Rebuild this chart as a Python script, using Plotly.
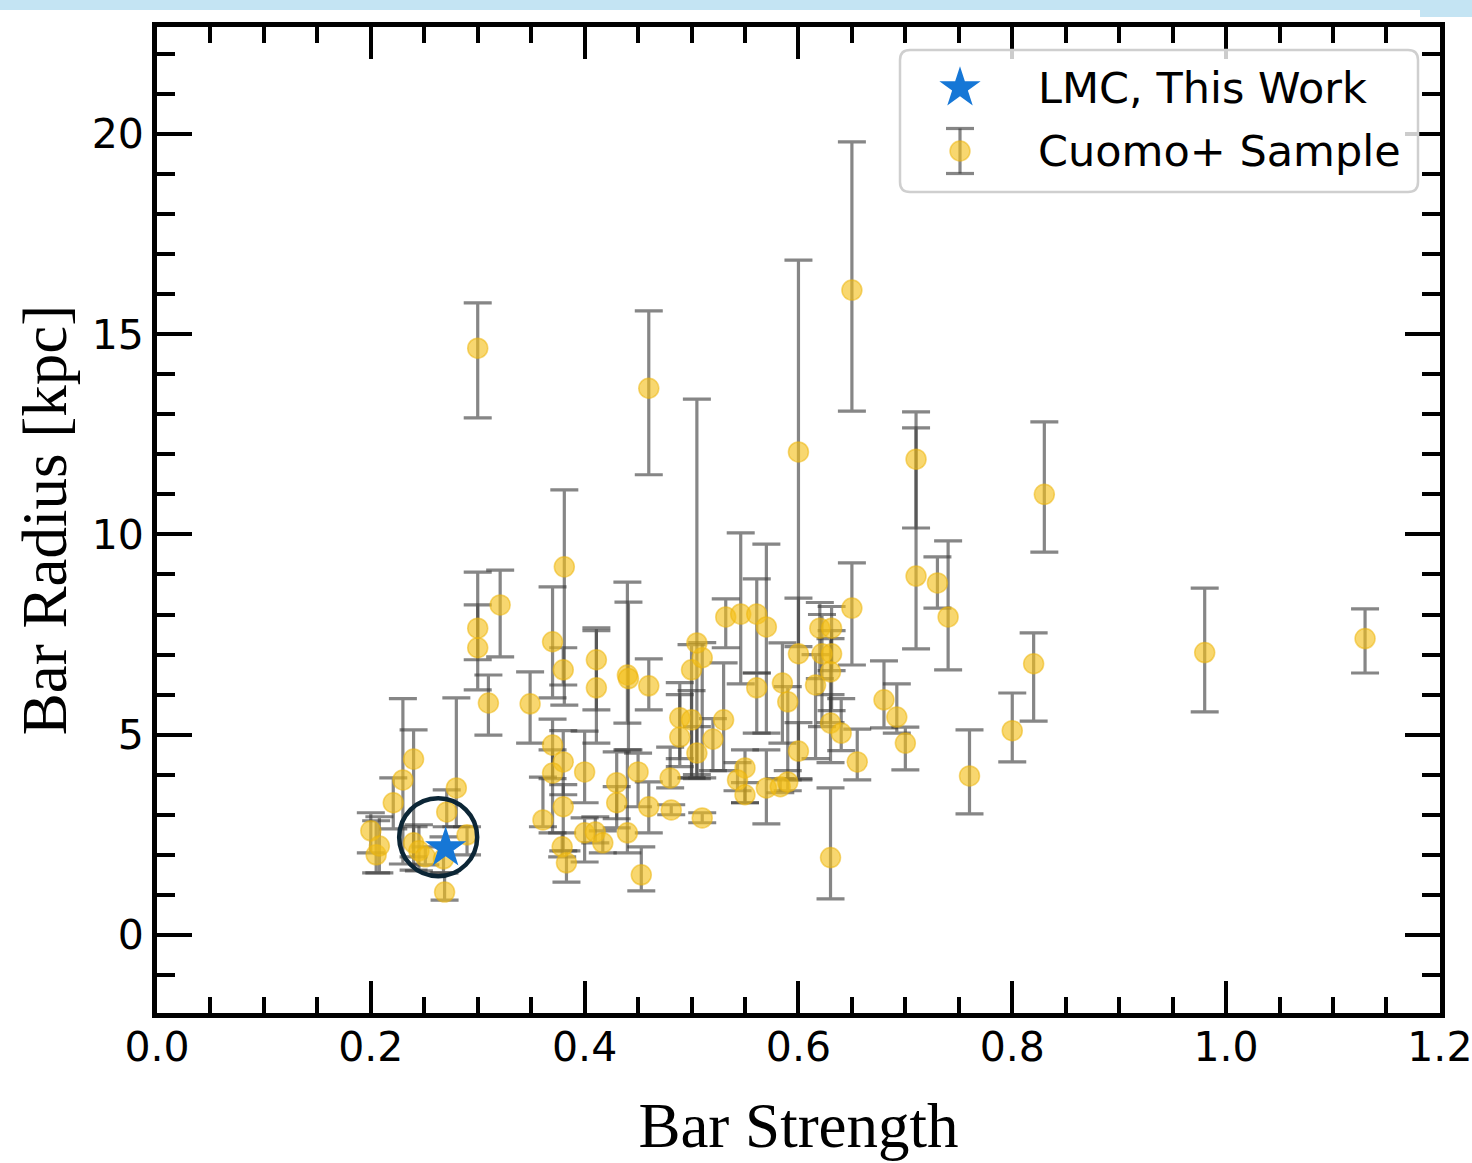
import math
import plotly.graph_objects as go

# ---------------------------------------------------------------------------
# Cuomo+ sample: bar strength vs. bar radius, with lower/upper radius bounds
# ---------------------------------------------------------------------------
bar_strength = [
    0.200, 0.205, 0.208, 0.221, 0.230, 0.240, 0.240, 0.245, 0.251, 0.271,
    0.280, 0.269, 0.290, 0.268, 0.300, 0.300, 0.321, 0.310, 0.300, 0.349,
    0.370, 0.381, 0.380, 0.411, 0.411, 0.440, 0.441, 0.460, 0.370, 0.380,
    0.370, 0.400, 0.380, 0.361, 0.379, 0.383, 0.400, 0.410, 0.417, 0.430,
    0.430, 0.440, 0.450, 0.460, 0.453, 0.480, 0.481, 0.510, 0.460, 0.489,
    0.500, 0.489, 0.505, 0.520, 0.530, 0.500, 0.510, 0.505, 0.532, 0.546,
    0.561, 0.570, 0.561, 0.585, 0.590, 0.600, 0.600, 0.600, 0.550, 0.543,
    0.550, 0.570, 0.583, 0.590, 0.620, 0.631, 0.622, 0.631, 0.630, 0.616,
    0.630, 0.640, 0.655, 0.650, 0.650, 0.630, 0.680, 0.692, 0.700, 0.710,
    0.710, 0.730, 0.740, 0.760, 0.800, 0.820, 0.830, 0.980, 1.130,
]
bar_radius = [
    2.60, 2.00, 2.22, 3.30, 3.87, 4.39, 2.30, 2.10, 1.95, 3.07,
    3.67, 1.07, 2.50, 1.90, 7.66, 7.17, 8.24, 5.79, 14.65, 5.77,
    7.32, 9.19, 6.62, 6.87, 6.17, 6.49, 6.40, 6.22, 4.74, 4.32,
    4.04, 4.07, 3.20, 2.87, 2.20, 1.80, 2.55, 2.57, 2.30, 3.80,
    3.30, 2.55, 4.07, 3.20, 1.50, 3.92, 3.12, 2.92, 13.65, 5.42,
    5.37, 4.94, 4.54, 4.89, 5.37, 6.62, 6.92, 7.29, 7.94, 8.01,
    8.01, 7.69, 6.17, 6.29, 5.82, 7.02, 12.06, 4.59, 4.17, 3.87,
    3.50, 3.67, 3.70, 3.82, 7.66, 7.66, 7.02, 7.02, 6.57, 6.24,
    5.29, 5.04, 4.32, 8.16, 16.10, 1.93, 5.87, 5.44, 4.79, 11.88,
    8.96, 8.79, 7.94, 3.97, 5.10, 6.77, 11.00, 7.05, 7.40,
]
radius_lower = [
    2.05, 1.55, 1.55, 2.65, 1.77, 1.62, 1.95, 1.60, 1.75, 2.70,
    2.70, 0.87, 2.00, 1.55, 6.12, 6.87, 6.94, 4.99, 12.91, 4.79,
    5.92, 5.74, 6.24, 4.79, 5.62, 5.29, 4.62, 5.62, 3.90, 3.50,
    2.55, 3.30, 2.10, 2.70, 1.95, 1.32, 1.82, 2.30, 2.05, 2.67,
    2.90, 2.05, 3.20, 2.55, 1.10, 3.67, 3.00, 2.80, 11.49, 4.20,
    3.92, 4.40, 3.90, 4.10, 4.10, 3.92, 3.92, 4.00, 7.17, 6.27,
    6.54, 5.04, 5.04, 4.79, 3.87, 3.87, 7.20, 3.90, 3.30, 3.60,
    3.30, 2.77, 3.55, 3.60, 6.40, 6.60, 5.20, 5.60, 5.30, 4.40,
    4.30, 4.60, 3.87, 6.74, 13.08, 0.90, 5.17, 5.04, 4.12, 10.16,
    7.14, 8.16, 6.62, 3.02, 4.32, 5.34, 9.56, 5.57, 6.54,
]
radius_upper = [
    3.05, 2.85, 2.95, 3.92, 5.90, 5.12, 2.70, 2.75, 2.20, 3.62,
    5.92, 1.55, 2.70, 2.45, 9.06, 8.24, 9.11, 6.49, 15.78, 6.57,
    8.69, 11.11, 7.17, 7.67, 7.60, 8.81, 8.31, 6.89, 5.39, 5.10,
    4.62, 5.09, 3.75, 3.94, 2.55, 2.10, 2.92, 2.95, 2.60, 4.57,
    3.70, 4.62, 4.54, 3.82, 2.20, 4.69, 3.25, 3.05, 15.58, 6.30,
    6.10, 6.00, 5.20, 5.40, 6.79, 7.25, 7.30, 13.38, 8.39, 10.04,
    8.89, 9.76, 6.54, 7.29, 6.20, 8.41, 16.85, 5.30, 4.62, 4.30,
    3.80, 4.62, 3.90, 4.10, 8.30, 8.20, 8.00, 7.60, 7.40, 7.00,
    6.00, 5.90, 5.14, 9.29, 19.80, 3.67, 6.84, 6.27, 5.19, 13.06,
    12.66, 9.44, 9.84, 5.12, 6.04, 7.54, 12.81, 8.66, 8.14,
]

# LMC measurement from this work
lmc_strength = [0.27]
lmc_radius = [2.17]

# Axis ticks
x_ticks = [0.0, 0.2, 0.4, 0.6, 0.8, 1.0, 1.2]
y_ticks = [0, 5, 10, 15, 20]

series_names = ["LMC, This Work", "Cuomo+ Sample"]

err_minus = [r - lo for r, lo in zip(bar_radius, radius_lower)]
err_plus = [hi - r for r, hi in zip(bar_radius, radius_upper)]

# ---------------------------------------------------------------------------
# Styling / layout constants
# ---------------------------------------------------------------------------
W, H = 1472, 1163
M_L, M_R, M_T, M_B = 157, 32, 27, 150
PW, PH = W - M_L - M_R, H - M_T - M_B

GOLD = "rgba(243,191,22,0.62)"
GOLD_EDGE = "rgba(236,180,10,0.55)"
ERR = "rgba(60,60,60,0.62)"
STAR_BLUE = "#1677d6"
RING = "#0c2636"
TICK_FONT = dict(family="DejaVu Sans", size=41, color="black")
TITLE_FONT = dict(family="Liberation Serif", size=63, color="black")
LEGEND_FONT = dict(family="DejaVu Sans", size=43, color="black")
STAR_SIZE = 31
DOT_SIZE = 20


def px_x(p):
    """pixel column inside the plot area -> paper fraction"""
    return p / PW


def px_y(p):
    """pixel row (from plot bottom) -> paper fraction"""
    return p / PH


def star_path(outer):
    """five-pointed star outline in pixel units, centred on its anchor"""
    inner = outer * 0.382
    pts = []
    for k in range(10):
        rad = outer if k % 2 == 0 else inner
        ang = math.pi / 2 + k * math.pi / 5
        pts.append((rad * math.cos(ang), rad * math.sin(ang)))
    return "M " + " L ".join(f"{x:.2f},{y:.2f}" for x, y in pts) + " Z"


fig = go.Figure()

# Cuomo+ sample with asymmetric radius uncertainties
fig.add_trace(go.Scatter(
    x=bar_strength, y=bar_radius, mode="markers", name=series_names[1],
    marker=dict(size=DOT_SIZE, color=GOLD, line=dict(width=1.5, color=GOLD_EDGE)),
    error_y=dict(type="data", symmetric=False, array=err_plus,
                 arrayminus=err_minus, color=ERR, thickness=3.2, width=14),
    showlegend=False, hoverinfo="x+y",
))

# LMC point
fig.add_trace(go.Scatter(
    x=lmc_strength, y=lmc_radius, mode="markers", name=series_names[0],
    marker=dict(symbol="star", size=STAR_SIZE, color=STAR_BLUE, line=dict(width=0)),
    showlegend=False,
))

# --- hand-drawn legend -----------------------------------------------------
KEY_X = px_x(960 - M_L)
ROW1_Y = px_y(M_T + PH - 88)
ROW2_Y = px_y(M_T + PH - 151)
TEXT_X = px_x(1036 - M_L)
ERR_HALF = 22.5
CAP_HALF = 14

bx0, bx1 = px_x(900 - M_L), px_x(1418 - M_L)
by0, by1 = px_y(M_T + PH - 192), px_y(M_T + PH - 50)
rx, ry = px_x(10), px_y(10)
frame_path = (
    f"M {bx0 + rx},{by0} L {bx1 - rx},{by0} Q {bx1},{by0} {bx1},{by0 + ry} "
    f"L {bx1},{by1 - ry} Q {bx1},{by1} {bx1 - rx},{by1} "
    f"L {bx0 + rx},{by1} Q {bx0},{by1} {bx0},{by1 - ry} "
    f"L {bx0},{by0 + ry} Q {bx0},{by0} {bx0 + rx},{by0} Z"
)


def key_shape(**kw):
    base = dict(xref="paper", yref="paper", xsizemode="pixel", ysizemode="pixel",
                xanchor=KEY_X, layer="above")
    base.update(kw)
    return base


shapes = [
    # legend background
    dict(type="path", xref="paper", yref="paper", path=frame_path,
         fillcolor="rgba(255,255,255,0.8)", line=dict(color="#cfcfcf", width=2.5),
         layer="above"),
    # legend key: star
    key_shape(type="path", yanchor=ROW1_Y, path=star_path(0.7 * STAR_SIZE),
              fillcolor=STAR_BLUE, line=dict(width=0)),
    # legend key: error bar + dot
    key_shape(type="line", yanchor=ROW2_Y, x0=0, x1=0, y0=-ERR_HALF, y1=ERR_HALF,
              line=dict(color=ERR, width=3.2)),
    key_shape(type="line", yanchor=ROW2_Y, x0=-CAP_HALF, x1=CAP_HALF,
              y0=ERR_HALF, y1=ERR_HALF, line=dict(color=ERR, width=3.2)),
    key_shape(type="line", yanchor=ROW2_Y, x0=-CAP_HALF, x1=CAP_HALF,
              y0=-ERR_HALF, y1=-ERR_HALF, line=dict(color=ERR, width=3.2)),
    key_shape(type="circle", yanchor=ROW2_Y, x0=-DOT_SIZE / 2, x1=DOT_SIZE / 2,
              y0=-DOT_SIZE / 2, y1=DOT_SIZE / 2, fillcolor=GOLD,
              line=dict(color=GOLD_EDGE, width=1.5)),
    # ring highlighting the LMC
    dict(type="circle", xref="x", yref="y", xsizemode="pixel", ysizemode="pixel",
         xanchor=0.263, yanchor=2.44, x0=-39, x1=39, y0=-39, y1=39,
         line=dict(color=RING, width=4.5), fillcolor="rgba(0,0,0,0)", layer="above"),
    # light band along the top edge of the page
    dict(type="rect", xref="paper", yref="paper",
         x0=-0.2, x1=px_x(1420 - M_L), y0=px_y(PH + M_T - 10), y1=1.2,
         fillcolor="#c4e4f3", line=dict(width=0), layer="above"),
    dict(type="rect", xref="paper", yref="paper",
         x0=px_x(1420 - M_L), x1=1.2, y0=px_y(PH + M_T - 17), y1=1.2,
         fillcolor="#c4e4f3", line=dict(width=0), layer="above"),
]

annotations = [
    dict(text=series_names[0], xref="paper", yref="paper", x=TEXT_X, y=ROW1_Y,
         xanchor="left", yanchor="middle", showarrow=False, font=LEGEND_FONT),
    dict(text=series_names[1], xref="paper", yref="paper", x=TEXT_X, y=ROW2_Y,
         xanchor="left", yanchor="middle", showarrow=False, font=LEGEND_FONT),
]

axis_common = dict(
    showline=True, linecolor="black", linewidth=5, mirror="allticks",
    ticks="inside", tickcolor="black", tickwidth=4,
    showgrid=False, zeroline=False, tickfont=TICK_FONT,
    ticklabeloverflow="allow", automargin=False,
)

fig.update_layout(
    width=W, height=H,
    margin=dict(l=M_L, r=M_R, t=M_T, b=M_B, pad=0, autoexpand=False),
    paper_bgcolor="white", plot_bgcolor="white",
    showlegend=False,
    xaxis=dict(
        **axis_common, range=[0, 1.2001], tickvals=x_ticks,
        ticktext=[f"{v:.1f}" for v in x_ticks], ticklen=32,
        ticklabelstandoff=-6,
        minor=dict(dtick=0.05, tick0=0, ticks="inside", ticklen=16,
                   tickwidth=4, tickcolor="black", showgrid=False),
        title=dict(text="Bar Strength", font=TITLE_FONT, standoff=34),
    ),
    yaxis=dict(
        **axis_common, range=[-1.95, 22.67], tickvals=y_ticks, ticklen=35,
        minor=dict(dtick=1, tick0=0, ticks="inside", ticklen=18,
                   tickwidth=4, tickcolor="black", showgrid=False),
        title=dict(text="Bar Radius [kpc]", font=TITLE_FONT, standoff=6),
    ),
    shapes=shapes,
    annotations=annotations,
)

fig.write_html("out.html")
